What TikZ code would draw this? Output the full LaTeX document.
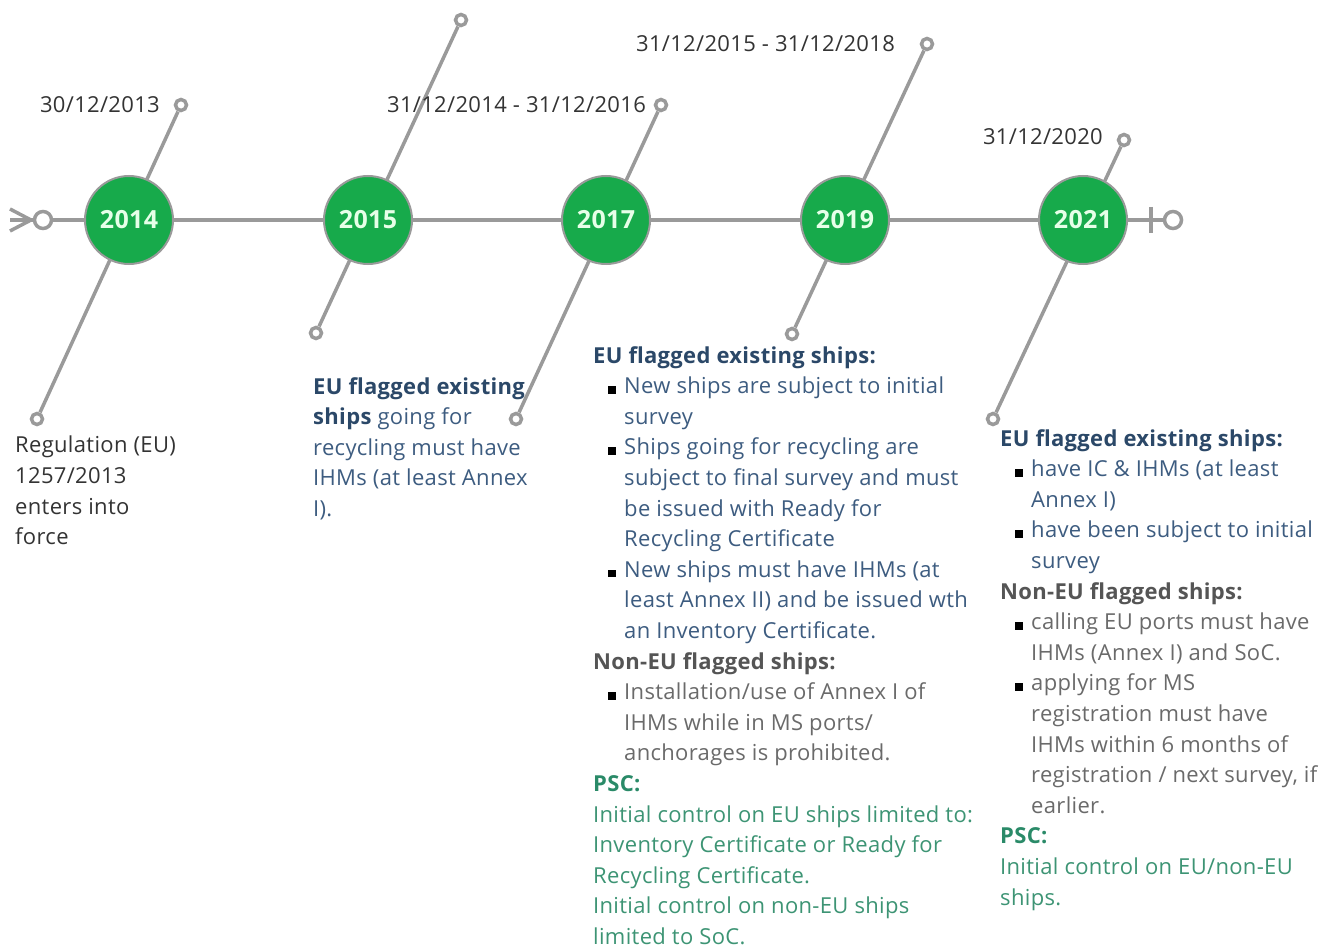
\documentclass[tikz,border=0pt]{standalone}
\usepackage{fontspec}
\setmainfont{Open Sans}[LetterSpace=1.5]
\definecolor{lgray}{HTML}{9A9A9A}
\definecolor{ygreen}{HTML}{17AA4B}
\definecolor{ytext}{HTML}{E6FFE8}
\definecolor{dtext}{HTML}{333333}
\definecolor{eublue}{HTML}{2B4868}
\definecolor{eutext}{HTML}{3D5C80}
\definecolor{negray}{HTML}{555555}
\definecolor{netext}{HTML}{6A6A6A}
\definecolor{pscg}{HTML}{2A8A68}
\definecolor{psct}{HTML}{3D9474}
\newcommand\bul{\makebox[31pt][l]{\hspace{15pt}{\color{black}\rule{7.5pt}{7.5pt}}}}
\newcommand\ind{\hspace*{31pt}}
\newcommand\euh[1]{{\color{eublue}\bfseries #1}}
\newcommand\eut[1]{{\color{eutext}#1}}
\newcommand\neh[1]{{\color{negray}\bfseries #1}}
\newcommand\net[1]{{\color{netext}#1}}
\newcommand\psh[1]{{\color{pscg}\bfseries #1}}
\newcommand\pst[1]{{\color{psct}#1}}
\begin{document}
\begin{tikzpicture}[x=1pt,y=-1pt,
  gl/.style={draw=lgray, line width=3.5pt},
  endc/.style={circle, draw=lgray, line width=3.5pt, fill=white, minimum size=11pt, inner sep=0pt},
  bigend/.style={circle, draw=lgray, line width=3.5pt, fill=white, minimum size=17pt, inner sep=0pt},
  year/.style={circle, fill=ygreen, draw=lgray, line width=2pt, minimum size=88pt, inner sep=0pt, font=\fontsize{25}{25}\selectfont\bfseries, text=ytext},
  datel/.style={anchor=east, inner sep=0pt, text=dtext, font=\fontsize{22}{24}\selectfont},
  txt/.style={anchor=north west, inner sep=0pt, align=left, font=\fontsize{22}{30.6}\selectfont}]
\useasboundingbox (0,0) rectangle (1332,949);
% end markers of the main line
\node[bigend] (ls) at (43,220) {};
\node[bigend] (le) at (1173,220) {};
\coordinate (cfa) at (10,209);
\coordinate (cfb) at (10,231);
\coordinate (cfc) at (10,220);
\coordinate (cft) at (31,220);
\coordinate (rb1) at (1151,207);
\coordinate (rb2) at (1151,233);
% diagonal end circles
\node[endc] (u14) at (181,105) {};
\node[endc] (d14) at (37,419) {};
\node[endc] (u15) at (461,20) {};
\node[endc] (d15) at (316,333) {};
\node[endc] (u17) at (661,105) {};
\node[endc] (d17) at (516,419) {};
\node[endc] (u19) at (927,44) {};
\node[endc] (d19) at (792,334) {};
\node[endc] (u21) at (1124,140) {};
\node[endc] (d21) at (993,419) {};
% lines
\draw[gl] (ls) -- (le);
\draw[gl] (cfa) -- (cft) -- (cfb);
\draw[gl] (cfc) -- (ls);
\draw[gl] (rb1) -- (rb2);
\draw[gl] (u14) -- (d14);
\draw[gl] (u15) -- (d15);
\draw[gl] (u17) -- (d17);
\draw[gl] (u19) -- (d19);
\draw[gl] (u21) -- (d21);
% year circles
\node[year] (y14) at (129,220) {2014};
\node[year] (y15) at (368,220) {2015};
\node[year] (y17) at (606,220) {2017};
\node[year] (y19) at (845,220) {2019};
\node[year] (y21) at (1083,220) {2021};
% dates
\node[datel] (t13) at (160,105) {30/12/2013};
\node[datel] (t1416) at (646,105) {31/12/2014 - 31/12/2016};
\node[datel] (t1518) at (895,44) {31/12/2015 - 31/12/2018};
\node[datel] (t20) at (1103,137) {31/12/2020};
% text blocks
\node[txt, text=dtext] (b14) at (15,436) {Regulation (EU)\\1257/2013\\enters into\\force};
\node[txt] (b15) at (313,377) {\euh{EU flagged existing}\\\euh{ships} \eut{going for}\\\eut{recycling must have}\\\eut{IHMs (at least Annex}\\\eut{I).}};
\node[txt] (b17) at (593,346) {\euh{EU flagged existing ships:}\\
\bul\eut{New ships are subject to initial}\\
\ind\eut{survey}\\
\bul\eut{Ships going for recycling are}\\
\ind\eut{subject to final survey and must}\\
\ind\eut{be issued with Ready for}\\
\ind\eut{Recycling Certificate}\\
\bul\eut{New ships must have IHMs (at}\\
\ind\eut{least Annex II) and be issued wth}\\
\ind\eut{an Inventory Certificate.}\\
\neh{Non-EU flagged ships:}\\
\bul\net{Installation/use of Annex I of}\\
\ind\net{IHMs while in MS ports/}\\
\ind\net{anchorages is prohibited.}\\
\psh{PSC:}\\
\pst{Initial control on EU ships limited to:}\\
\pst{Inventory Certificate or Ready for}\\
\pst{Recycling Certificate.}\\
\pst{Initial control on non-EU ships}\\
\pst{limited to SoC.}};
\node[txt] (b21) at (1000,429) {\euh{EU flagged existing ships:}\\
\bul\eut{have IC \& IHMs (at least}\\
\ind\eut{Annex I)}\\
\bul\eut{have been subject to initial}\\
\ind\eut{survey}\\
\neh{Non-EU flagged ships:}\\
\bul\net{calling EU ports must have}\\
\ind\net{IHMs (Annex I) and SoC.}\\
\bul\net{applying for MS}\\
\ind\net{registration must have}\\
\ind\net{IHMs within 6 months of}\\
\ind\net{registration / next survey, if}\\
\ind\net{earlier.}\\
\psh{PSC:}\\
\pst{Initial control on EU/non-EU}\\
\pst{ships.}};
\end{tikzpicture}
\end{document}
